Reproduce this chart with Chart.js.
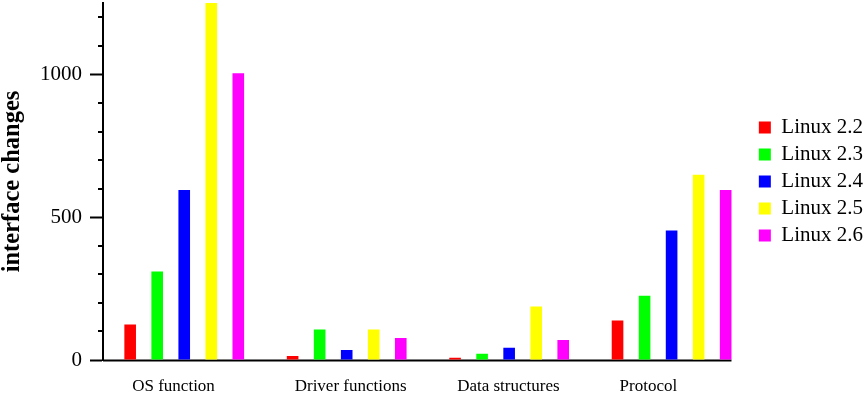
<!DOCTYPE html>
<html>
<head>
<meta charset="utf-8">
<title>interface changes</title>
<script src="https://cdn.jsdelivr.net/npm/chart.js@4/dist/chart.umd.min.js"></script>
<style>
  html, body { margin: 0; padding: 0; background: #fff; }
  #wrap { width: 868px; height: 397px; }
</style>
</head>
<body>
<div id="wrap"><canvas id="chart"></canvas></div>
<script>
// interface changes per kernel series
const categories = ['OS function', 'Driver functions', 'Data structures', 'Protocol'];
const versions = ['Linux 2.2', 'Linux 2.3', 'Linux 2.4', 'Linux 2.5', 'Linux 2.6'];
const linux22 = [124, 14, 8, 138];
const linux23 = [310, 107, 22, 225];
const linux24 = [595, 35, 43, 453];
const linux25 = [1250, 107, 187, 649];
const linux26 = [1004, 77, 70, 595];
const yTicks = [0, 500, 1000];
const yMax = 1250;

const colors = ['#ff0000', '#00ff00', '#0000ff', '#ffff00', '#ff00ff'];
const series = [linux22, linux23, linux24, linux25, linux26];

const SERIF = '"Liberation Serif", "Times New Roman", serif';

// minor ticks every 100 and a baseline that stops at the last bar
const axisExtras = {
  id: 'axisExtras',
  beforeDatasetsDraw(chart) {
    const { ctx, chartArea, scales: { y } } = chart;
    ctx.save();
    ctx.strokeStyle = '#000';
    ctx.lineWidth = 2;
    for (let v = 100; v < yMax; v += 100) {
      if (yTicks.includes(v)) continue;
      const py = Math.round(y.getPixelForValue(v));
      ctx.beginPath();
      ctx.moveTo(chartArea.left - 5, py);
      ctx.lineTo(chartArea.left, py);
      ctx.stroke();
    }
    const bars = chart.getDatasetMeta(series.length - 1).data;
    const last = bars[bars.length - 1];
    const y0 = Math.round(y.getPixelForValue(0)) + 0.5;
    ctx.beginPath();
    ctx.moveTo(chartArea.left, y0);
    ctx.lineTo(last.x + last.width / 2, y0);
    ctx.stroke();
    ctx.restore();
  }
};

new Chart(document.getElementById('chart'), {
  type: 'bar',
  data: {
    labels: categories,
    datasets: series.map((vals, i) => ({
      label: versions[i],
      data: vals,
      backgroundColor: colors[i],
      borderWidth: 0,
      categoryPercentage: 0.832,
      barPercentage: 0.43
    }))
  },
  options: {
    responsive: true,
    maintainAspectRatio: false,
    animation: false,
    layout: { padding: { top: 3, bottom: 0, left: 0, right: -5 } },
    plugins: {
      tooltip: { enabled: false },
      legend: {
        position: 'right',
        fullSize: false,
        labels: {
          boxWidth: 12,
          boxHeight: 12,
          padding: 6,
          color: '#000',
          font: { family: SERIF, size: 21 }
        }
      }
    },
    scales: {
      x: {
        grid: { display: false, drawTicks: false },
        border: { display: false },
        ticks: {
          align: 'start',
          labelOffset: -52,
          padding: 16,
          color: '#000',
          font: { family: SERIF, size: 17 }
        },
        afterFit: s => { s.height = 37; s.paddingLeft = 0; s.paddingRight = 0; }
      },
      y: {
        min: 0,
        max: yMax,
        border: { display: true, color: '#000', width: 2 },
        grid: {
          drawOnChartArea: false,
          tickLength: 13,
          tickWidth: 2,
          tickColor: c => yTicks.includes(c.tick.value) ? '#000' : 'rgba(0,0,0,0)'
        },
        ticks: {
          stepSize: 100,
          autoSkip: false,
          padding: 8,
          color: '#000',
          font: { family: SERIF, size: 21 },
          callback: v => yTicks.includes(v) ? String(v) : null
        },
        title: {
          display: true,
          text: 'interface changes',
          color: '#000',
          font: { family: SERIF, size: 24.5, weight: 'bold', lineHeight: 1.0 },
          padding: { top: 0, bottom: 0 }
        },
        afterFit: s => { s.width = 103; s.paddingTop = 0; s.paddingBottom = 0; }
      }
    }
  },
  plugins: [axisExtras]
});
</script>
</body>
</html>
